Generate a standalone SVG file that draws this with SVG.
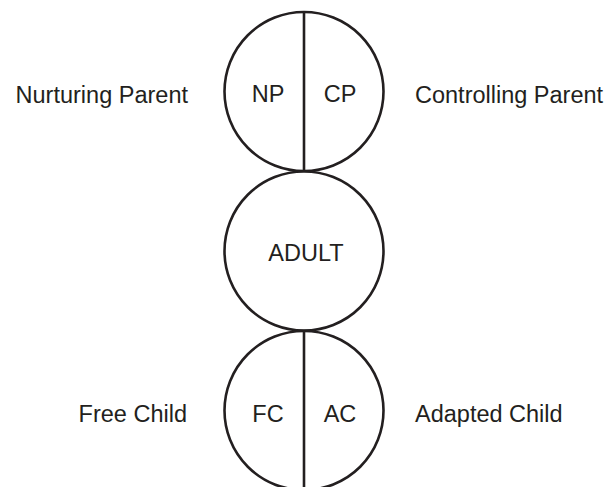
<svg xmlns="http://www.w3.org/2000/svg" width="606" height="487" viewBox="0 0 606 487">
<style>
.c{fill:#fff;stroke:#231f20;stroke-width:2.6}
.l{stroke:#231f20;stroke-width:2.6}
text{font-family:"Liberation Sans",Arial,sans-serif;font-size:23.5px;fill:#231f20}
.m{text-anchor:middle}
.e{text-anchor:end}
</style>
<rect width="606" height="487" fill="#fff"/>
<g id="parent">
<circle class="c" cx="304" cy="91.5" r="79.5"/>
<text class="m" x="268" y="102">NP</text>
<text class="m" x="340" y="102">CP</text>
</g>
<g id="adult">
<circle class="c" cx="304" cy="251" r="79.5"/>
<text class="m" x="306" y="261">ADULT</text>
</g>
<g id="child">
<circle class="c" cx="304" cy="410.5" r="79.5"/>
<text class="m" x="268" y="422">FC</text>
<text class="m" x="340" y="422">AC</text>
</g>
<g id="connectors">
<line class="l" x1="304" y1="12" x2="304" y2="171"/>
<line class="l" x1="304" y1="331" x2="304" y2="487"/>
</g>
<g id="labels">
<text class="e" x="188" y="103">Nurturing Parent</text>
<text x="415" y="103">Controlling Parent</text>
<text class="e" x="187" y="422">Free Child</text>
<text x="415" y="422">Adapted Child</text>
</g>
</svg>
